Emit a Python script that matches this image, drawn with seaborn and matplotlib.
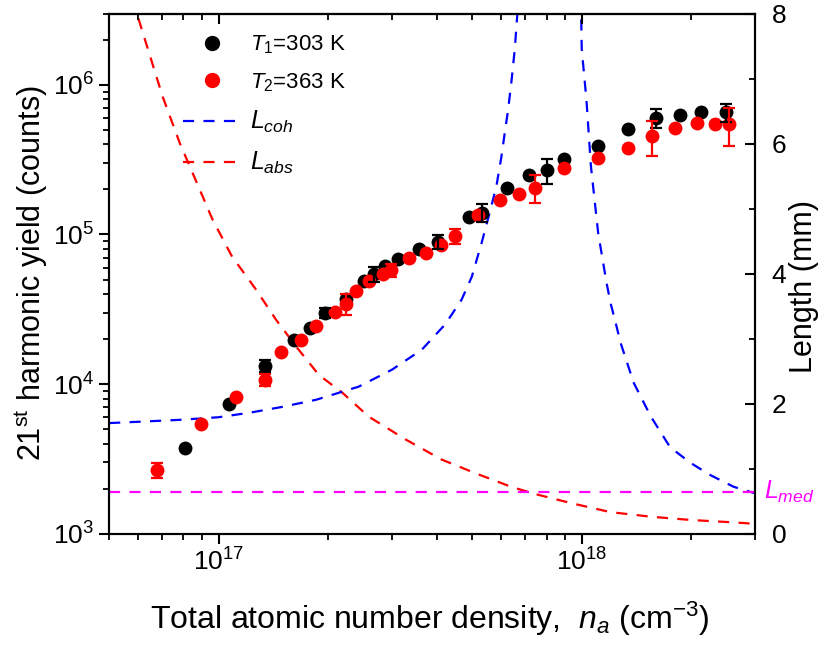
import numpy as np
import matplotlib
matplotlib.use("Agg")
import matplotlib.pyplot as plt
import matplotlib.transforms as mtransforms
from matplotlib.lines import Line2D
from matplotlib.ticker import LogLocator, NullFormatter, MultipleLocator
import seaborn as sns

# data
black_n = [8.07e16, 1.07e17, 1.34e17, 1.61e17, 1.79e17, 1.97e17, 2.24e17, 2.51e17, 2.68e17,
           2.88e17, 3.12e17, 3.57e17, 4.03e17, 4.89e17, 5.33e17, 6.24e17, 7.16e17, 8.02e17,
           8.91e17, 1.11e18, 1.34e18, 1.60e18, 1.86e18, 2.13e18, 2.50e18]
black_y = [3.71e3, 7.40e3, 1.32e4, 1.98e4, 2.38e4, 2.99e4, 3.71e4, 4.91e4, 5.44e4,
           6.18e4, 6.85e4, 8.0e4, 8.94e4, 1.30e5, 1.40e5, 2.06e5, 2.49e5, 2.69e5,
           3.21e5, 3.90e5, 5.04e5, 6.03e5, 6.28e5, 6.61e5, 6.58e5]
black_err = [0, 0, 1.2e3, 0, 0, 2.4e3, 0, 0, 6.5e3,
             0, 0, 0, 9.5e3, 0, 1.9e4, 0, 0, 5.0e4,
             0, 0, 0, 8.6e4, 0, 0, 9.0e4]

red_n = [6.75e16, 8.96e16, 1.12e17, 1.34e17, 1.49e17, 1.69e17, 1.86e17, 2.09e17, 2.25e17,
         2.39e17, 2.60e17, 2.83e17, 2.99e17, 3.35e17, 3.73e17, 4.09e17, 4.48e17, 5.19e17,
         5.95e17, 6.71e17, 7.42e17, 8.91e17, 1.11e18, 1.34e18, 1.56e18, 1.81e18, 2.07e18,
         2.33e18, 2.55e18]
red_y = [2.66e3, 5.39e3, 8.19e3, 1.07e4, 1.63e4, 1.98e4, 2.44e4, 3.02e4, 3.44e4,
         4.17e4, 4.86e4, 5.44e4, 5.79e4, 6.96e4, 7.47e4, 8.54e4, 9.8e4, 1.35e5,
         1.69e5, 1.86e5, 2.06e5, 2.80e5, 3.26e5, 3.80e5, 4.55e5, 5.12e5, 5.58e5,
         5.5e5, 5.45e5]
red_err = [2.9e2, 0, 0, 1.0e3, 0, 0, 0, 0, 5.4e3,
           0, 0, 0, 6.0e3, 0, 0, 0, 1.1e4, 0,
           0, 0, 4.3e4, 0, 0, 0, 1.2e5, 0, 0,
           0, 1.55e5]

# length curves (mm)
labs_n = [5.0e16, 5.96e16, 7.02e16, 7.82e16, 8.71e16, 9.63e16, 1.09e17, 1.27e17, 1.44e17,
          1.64e17, 1.89e17, 2.19e17, 2.59e17, 3.27e17, 4.11e17, 5.09e17, 6.39e17, 7.43e17,
          9.33e17, 1.20e18, 1.55e18, 1.99e18, 2.67e18, 3.0e18]
labs_mm = [9.3, 8.0, 6.72, 6.01, 5.40, 4.83, 4.26, 3.75, 3.29,
           2.87, 2.44, 2.17, 1.80, 1.45, 1.14, 0.93, 0.72, 0.61,
           0.47, 0.33, 0.26, 0.21, 0.17, 0.15]

lcoh_left_n = [5.0e16, 6.0e16, 7.82e16, 1.0e17, 1.22e17, 1.5e17, 1.86e17, 2.43e17, 3.0e17,
               3.63e17, 4.21e17, 4.67e17, 4.98e17, 5.30e17, 5.58e17, 5.82e17, 6.01e17,
               6.14e17, 6.27e17, 6.40e17, 6.54e17, 6.65e17, 6.75e17]
lcoh_left_mm = [1.70, 1.72, 1.75, 1.79, 1.86, 1.95, 2.06, 2.26, 2.52,
                2.83, 3.22, 3.60, 3.95, 4.47, 4.94, 5.34, 5.80,
                6.17, 6.52, 6.94, 7.45, 8.0, 8.5]
lcoh_right_n = [9.85e17, 9.96e17, 1.0e18, 1.03e18, 1.06e18, 1.11e18, 1.17e18, 1.20e18,
                1.24e18, 1.28e18, 1.39e18, 1.55e18, 1.75e18, 1.99e18, 2.26e18, 2.62e18, 3.0e18]
lcoh_right_mm = [8.5, 8.0, 7.45, 6.68, 5.65, 4.62, 3.86, 3.55,
                 3.24, 2.93, 2.32, 1.80, 1.33, 1.09, 0.90, 0.72, 0.62]

lmed_mm = 0.64

labels = [r'$\mathit{T}_\mathit{1}$=303 K', r'$\mathit{T}_\mathit{2}$=363 K',
          r'$L_{coh}$', r'$L_{abs}$']

sns.set_theme(style="ticks")
plt.rcParams['font.family'] = ['Liberation Sans', 'DejaVu Sans']
plt.rcParams['mathtext.fontset'] = 'custom'
plt.rcParams['mathtext.rm'] = 'Liberation Sans'
plt.rcParams['mathtext.it'] = 'Liberation Sans:italic'
plt.rcParams['mathtext.bf'] = 'Liberation Sans:bold'
for key in ['text.color', 'axes.labelcolor', 'xtick.color', 'ytick.color', 'axes.edgecolor']:
    plt.rcParams[key] = 'black'

fig = plt.figure(figsize=(8.27, 6.46), dpi=100)
ax = fig.add_axes([0.132, 0.174, 0.781, 0.805])
ax2 = ax.twinx()
ax.set_zorder(2)
ax.patch.set_visible(False)

dash = (0, (5, 4.2))
lw = 1.6
sns.lineplot(x=labs_n, y=labs_mm, ax=ax2, color='#ff0000', lw=lw, linestyle=dash,
             estimator=None, sort=False)
sns.lineplot(x=lcoh_left_n, y=lcoh_left_mm, ax=ax2, color='#0000ff', lw=lw, linestyle=dash,
             estimator=None, sort=False)
sns.lineplot(x=lcoh_right_n, y=lcoh_right_mm, ax=ax2, color='#0000ff', lw=lw, linestyle=dash,
             estimator=None, sort=False)
ax2.axhline(lmed_mm, color='#ff00ff', lw=lw, linestyle=dash)

sns.scatterplot(x=black_n, y=black_y, ax=ax, color='black', s=100, linewidth=0, zorder=3)
sns.scatterplot(x=red_n, y=red_y, ax=ax, color='#ff0000', s=100, linewidth=0, zorder=3)

for n, y, e, c in [(black_n, black_y, black_err, 'black'), (red_n, red_y, red_err, '#ff0000')]:
    n, y, e = np.array(n), np.array(y), np.array(e)
    m = e > 0
    ax.errorbar(n[m], y[m], yerr=e[m], fmt='none', ecolor=c, elinewidth=1.6,
                capsize=4.5, capthick=1.6, zorder=4)

ax.set_xscale('log')
ax.set_yscale('log')
ax.set_xlim(5e16, 3e18)
ax.set_ylim(1e3, 3e6)
ax2.set_ylim(0, 8)

for a in (ax, ax2):
    for s in a.spines.values():
        s.set_linewidth(1.5)
        s.set_color('black')

ax.yaxis.set_minor_locator(LogLocator(base=10, subs=np.arange(2, 10), numticks=20))
ax.yaxis.set_minor_formatter(NullFormatter())
ax.xaxis.set_minor_formatter(NullFormatter())
ax.tick_params(axis='both', which='major', direction='out', length=7, width=1.5,
               labelsize=19, color='black', labelcolor='black', pad=4)
ax.tick_params(axis='both', which='minor', direction='out', length=4, width=1.3, color='black')
ax.tick_params(axis='y', which='both', right=False)
ax.tick_params(axis='x', which='both', top=False)

top = ax.secondary_xaxis('top')
top.tick_params(which='major', direction='in', length=7, width=1.5, labeltop=False,
                color='black')
top.tick_params(which='minor', direction='in', length=4, width=1.3, color='black')
top.xaxis.set_minor_formatter(NullFormatter())
top.spines['top'].set_linewidth(1.5)
top.spines['top'].set_color('black')

ax2.yaxis.set_major_locator(MultipleLocator(2))
ax2.yaxis.set_minor_locator(MultipleLocator(1))
ax2.tick_params(axis='y', which='major', direction='in', length=7, width=1.5,
                labelsize=19, pad=12, color='black', labelcolor='black')
ax2.tick_params(axis='y', which='minor', direction='in', length=4, width=1.3, color='black')

ax.set_xlabel(r'Total atomic number density,  $n_a$ (cm$^{-3}$)', fontsize=23, color='black')
ax.set_ylabel(r'21$^{\mathrm{st}}$ harmonic yield (counts)', fontsize=22, color='black')
ax2.set_ylabel('Length (mm)', fontsize=22, color='black')
ax.xaxis.set_label_coords(0.497, -0.128)
ax.yaxis.set_label_coords(-0.092, 0.5)
ax2.yaxis.set_label_coords(1.052, 0.475)

trans = mtransforms.blended_transform_factory(ax2.transAxes, ax2.transData)
ax2.text(1.014, lmed_mm, r'$L_{med}$', transform=trans, color='#ff00ff', fontsize=18,
         va='center', ha='left')

handles = [
    Line2D([], [], color='black', marker='o', linestyle='none', markersize=10),
    Line2D([], [], color='#ff0000', marker='o', linestyle='none', markersize=10),
    Line2D([], [], color='#0000ff', lw=lw, linestyle=dash),
    Line2D([], [], color='#ff0000', lw=lw, linestyle=dash),
]
leg = ax.legend(handles, labels, loc='upper left', bbox_to_anchor=(0.115, 0.962),
                frameon=False, fontsize=16, handlelength=2.6, handletextpad=0.4,
                labelspacing=0.68, borderpad=0, borderaxespad=0)
for t in leg.get_texts():
    t.set_color('black')
for t in leg.get_texts()[2:]:
    t.set_fontsize(18)

fig.savefig('out.png', dpi=100)
